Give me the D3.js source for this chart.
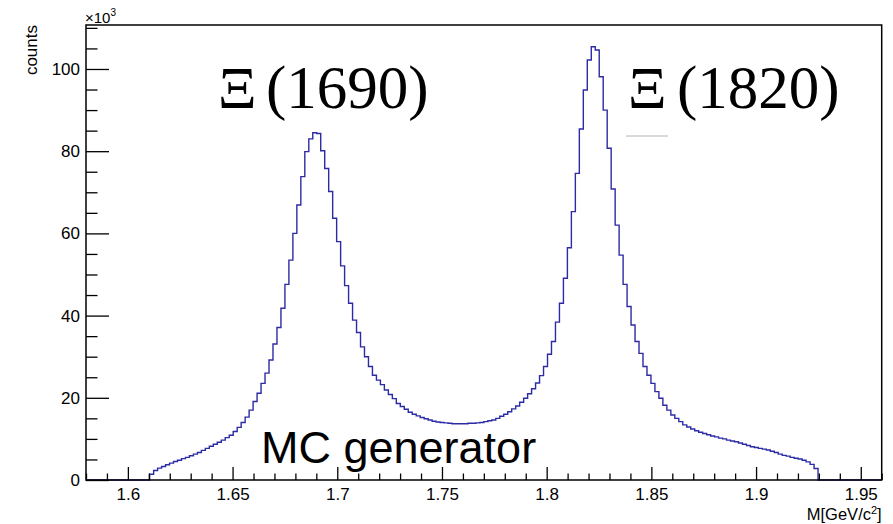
<!DOCTYPE html>
<html>
<head>
<meta charset="utf-8">
<script src="https://cdn.jsdelivr.net/npm/d3@7"></script>
<style>
  html, body { margin: 0; padding: 0; background: #fff; }
  svg text { font-family: "Liberation Sans", Arial, Helvetica, sans-serif; fill: #000; }
  .serif { font-family: "Liberation Serif", "Times New Roman", serif; }
</style>
</head>
<body>
<svg id="chart" width="893" height="524"></svg>
<script>
// Histogram binning of the invariant-mass spectrum (GeV/c^2)
const histRange = [1.58, 1.96];
const nBins = 200;
const firstFilledBin = 16;

// Bin contents in units of 10^3 counts, starting at bin 16
const filledCounts = [
  1.4, 2.3, 2.9, 3.3, 3.7, 4.1, 4.5, 4.8, 5.2, 5.5,
  5.9, 6.3, 6.7, 7.2, 7.7, 8.2, 8.7, 9.2, 9.7, 10.3,
  10.9, 11.8, 12.8, 14.0, 15.3, 17.0, 19.1, 21.1, 23.5, 26.0,
  29.2, 33.1, 37.1, 41.8, 47.6, 53.5, 60.0, 66.9, 73.8, 79.9,
  83.0, 84.5, 84.3, 80.1, 75.8, 70.2, 63.7, 58.0, 52.1, 47.3,
  43.0, 38.9, 35.9, 32.4, 30.0, 27.6, 25.5, 24.3, 23.2, 21.9,
  20.8, 19.8, 18.6, 17.9, 17.2, 16.5, 16.0, 15.6, 15.2, 14.9,
  14.6, 14.3, 14.1, 14.0, 13.9, 13.8, 13.7, 13.7, 13.7, 13.7,
  13.8, 13.8, 13.9, 14.0, 14.2, 14.4, 14.6, 15.0, 15.5, 16.0,
  16.6, 17.3, 18.0, 18.9, 19.9, 21.0, 22.2, 23.6, 25.4, 27.6,
  30.6, 33.7, 38.4, 43.0, 49.1, 56.5, 65.3, 74.6, 85.4, 94.9,
  102.2, 105.4, 104.6, 98.1, 90.0, 80.7, 70.8, 62.0, 54.7, 47.6,
  42.2, 37.7, 33.7, 30.8, 27.6, 25.5, 23.5, 21.5, 19.9, 18.2,
  17.0, 15.8, 15.0, 14.2, 13.4, 12.9, 12.4, 12.0, 11.6, 11.3,
  11.0, 10.7, 10.5, 10.2, 10.0, 9.7, 9.5, 9.3, 9.0, 8.7,
  8.4, 8.1, 7.9, 7.7, 7.5, 7.3, 7.0, 6.7, 6.3, 6.0,
  5.8, 5.5, 5.3, 5.1, 4.8, 4.4, 3.8, 2.8
];

// Axis ticks and labels
const xMajorTicks = [1.6, 1.65, 1.7, 1.75, 1.8, 1.85, 1.9, 1.95];
const xTickLabels = ["1.6", "1.65", "1.7", "1.75", "1.8", "1.85", "1.9", "1.95"];
const yMajorTicks = [0, 20, 40, 60, 80, 100];
const yTickLabels = ["0", "20", "40", "60", "80", "100"];
const yMax = 110.7;

// Resonance annotations
const peakNames = ["\u039E", "\u039E"];
const peakMasses = ["(1690)", "(1820)"];

// ---------------------------------------------------------------
const svg = d3.select("#chart");
const frame = { left: 86, right: 881.7, top: 25, bottom: 480 };

const x = d3.scaleLinear().domain(histRange).range([frame.left, frame.right]);
const y = d3.scaleLinear().domain([0, yMax]).range([frame.bottom, frame.top]);

const binWidth = (histRange[1] - histRange[0]) / nBins;
const counts = d3.range(nBins).map(i => {
  const k = i - firstFilledBin;
  return (k >= 0 && k < filledCounts.length) ? filledCounts[k] : 0;
});

// Step outline of the histogram
const stepPoints = [[histRange[0], 0]];
counts.forEach((c, i) => stepPoints.push([histRange[0] + i * binWidth, c]));
stepPoints.push([histRange[1], counts[nBins - 1]]);

const line = d3.line()
  .x(d => x(d[0]))
  .y(d => y(d[1]))
  .curve(d3.curveStepAfter);

svg.append("path")
  .datum(stepPoints)
  .attr("fill", "none")
  .attr("stroke", "#2b2ba6")
  .attr("stroke-width", 1.4)
  .attr("d", line);

// Minor ticks
const xMinor = d3.range(1.58, 1.9601, 0.01).filter(v => !xMajorTicks.some(t => Math.abs(t - v) < 1e-6));
const yMinor = d3.range(0, 110.01, 5).filter(v => !yMajorTicks.includes(v));

const axisStyle = g => {
  g.select(".domain").remove();
  g.selectAll("line").attr("stroke", "#000").attr("stroke-width", 1.3);
};

svg.append("g")
  .attr("transform", `translate(0,${frame.bottom})`)
  .call(d3.axisBottom(x).tickValues(xMinor).tickSize(-6.5).tickFormat(""))
  .call(axisStyle);

svg.append("g")
  .attr("transform", `translate(0,${frame.bottom})`)
  .call(d3.axisBottom(x).tickValues(xMajorTicks).tickSize(-13).tickPadding(8)
        .tickFormat((d, i) => xTickLabels[i]))
  .call(axisStyle)
  .selectAll("text")
  .attr("font-size", 17)
  .attr("font-family", "Liberation Sans, Arial, sans-serif")
  .attr("fill", "#000");

svg.append("g")
  .attr("transform", `translate(0,0)`)
  .attr("transform", `translate(${frame.left},0)`)
  .call(d3.axisLeft(y).tickValues(yMinor).tickSize(-11.5).tickFormat(""))
  .call(axisStyle);

svg.append("g")
  .attr("transform", `translate(${frame.left},0)`)
  .call(d3.axisLeft(y).tickValues(yMajorTicks).tickSize(-23).tickPadding(6)
        .tickFormat((d, i) => yTickLabels[i]))
  .call(axisStyle)
  .selectAll("text")
  .attr("font-size", 17)
  .attr("font-family", "Liberation Sans, Arial, sans-serif")
  .attr("fill", "#000");

// Frame
svg.append("rect")
  .attr("x", frame.left).attr("y", frame.top)
  .attr("width", frame.right - frame.left)
  .attr("height", frame.bottom - frame.top)
  .attr("fill", "none")
  .attr("stroke", "#000")
  .attr("stroke-width", 1.5);

// Axis titles
svg.append("text")
  .attr("transform", `translate(37,${frame.top}) rotate(-90)`)
  .attr("text-anchor", "end")
  .attr("font-size", 17)
  .text("counts");

const xt = svg.append("text")
  .attr("x", frame.right).attr("y", 520)
  .attr("text-anchor", "end")
  .attr("font-size", 16.5);
xt.append("tspan").text("M[GeV/c");
xt.append("tspan").attr("font-size", 11).attr("dy", -6).text("2");
xt.append("tspan").attr("dy", 6).text("]");

const mult = svg.append("text")
  .attr("x", frame.left - 1).attr("y", 23)
  .attr("font-size", 15);
mult.append("tspan").text("\u00D710");
mult.append("tspan").attr("font-size", 10).attr("dy", -7).text("3");

// Resonance labels
const labelPos = [{ sx: 218, mx: 266 }, { sx: 628, mx: 677 }];
peakNames.forEach((n, i) => {
  svg.append("text").attr("class", "serif")
    .attr("x", labelPos[i].sx).attr("y", 108)
    .attr("font-size", 60)
    .text(n);
  svg.append("text").attr("class", "serif")
    .attr("x", labelPos[i].mx).attr("y", 108)
    .attr("font-size", 61)
    .text(peakMasses[i]);
});

// faint rule beneath the second label
svg.append("line")
  .attr("x1", 626).attr("x2", 668).attr("y1", 136).attr("y2", 136)
  .attr("stroke", "#b4b4b4").attr("stroke-width", 1);

svg.append("text")
  .attr("x", 261).attr("y", 463)
  .attr("font-size", 45)
  .text("MC generator");
</script>
</body>
</html>
